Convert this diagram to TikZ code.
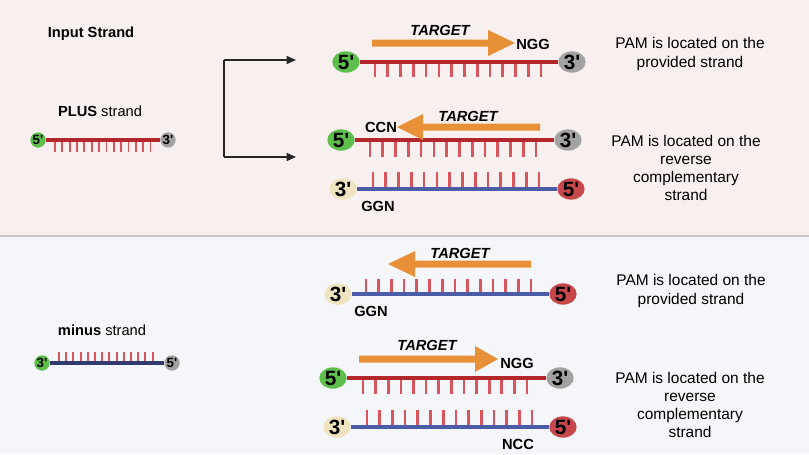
\documentclass[tikz,border=0pt]{standalone}
\usepackage{fontspec}
\setmainfont{Liberation Sans}
\usetikzlibrary{shapes.geometric,arrows.meta}
\definecolor{toppanel}{HTML}{F8F0EE}
\definecolor{botpanel}{HTML}{F4F6FA}
\definecolor{divider}{HTML}{C9C5C6}
\definecolor{strandred}{HTML}{B3262C}
\definecolor{tickred}{HTML}{D9545C}
\definecolor{strandblue}{HTML}{4B5CA6}
\definecolor{stranddark}{HTML}{313B6B}
\definecolor{endgreen}{HTML}{5DBE4B}
\definecolor{endgray}{HTML}{A2A2A2}
\definecolor{endcream}{HTML}{EFE3C0}
\definecolor{endred}{HTML}{C8474A}
\definecolor{targetorange}{HTML}{E89038}
\newcommand{\pr}{\textquotesingle}
\tikzset{
  bigend/.style={ellipse, minimum width=20.5pt, minimum height=16pt, inner sep=0pt, font=\bfseries\fontsize{15.5}{15.5}\selectfont},
  smallend/.style={circle, minimum size=11.5pt, inner sep=0pt, font=\bfseries\fontsize{10}{10}\selectfont},
  redstrand/.style={strandred, line width=3.3pt},
  bluestrand/.style={strandblue, line width=3.3pt},
  tickline/.style={tickred, line width=2pt},
  smalltick/.style={tickred, line width=1.4pt},
  lbl/.style={font=\bfseries\fontsize{11}{11}\selectfont, inner sep=0pt},
  targetlbl/.style={font=\bfseries\itshape\fontsize{11}{11}\selectfont, inner sep=0pt},
  pamtext/.style={align=center, font=\fontsize{11.6}{13.7}\selectfont, inner sep=0pt},
  heading/.style={font=\fontsize{11}{11}\selectfont, inner sep=0pt},
  orangearrow/.style={fill=targetorange, draw=none},
  bracket/.style={black!85, line width=1.1pt},
}
\begin{document}
\begin{tikzpicture}[x=0.75pt, y=-0.75pt]
\useasboundingbox (0,0) rectangle (809,454);
% panels
\fill[toppanel] (0,0) rectangle (809,235);
\fill[botpanel] (0,237) rectangle (809,454);
\draw[divider, line width=2pt] (0,236) -- (809,236);

% ---------- top panel ----------
\node[heading, font=\bfseries\fontsize{11}{11}\selectfont] (inp) at (91,34) {Input Strand};
\node[heading] (plus) at (100,111) {\textbf{PLUS} strand};
% plus strand
\foreach \i in {0,...,13} \draw[smalltick] ({55+\i*7.35},142) -- ({55+\i*7.35},152);
\node[smallend, fill=endgreen] (p5) at (38,140) {5\pr};
\node[smallend, fill=endgray] (p3) at (168,140) {3\pr};
\draw[strandred, line width=2.4pt] (p5.east) -- (p3.west);

% bracket
\coordinate (bt) at (224,60);
\coordinate (bb) at (224,157);
\coordinate (at) at (296,60);
\coordinate (ab) at (296,157);
\draw[bracket] (bt) -- (bb);
\draw[bracket, -{Triangle[length=7pt,width=6pt]}] (bt) -- (at);
\draw[bracket, -{Triangle[length=7pt,width=6pt]}] (bb) -- (ab);

% row 1
\foreach \i in {0,...,13} \draw[tickline] ({375+\i*12.77},64) -- ({375+\i*12.77},77);
\node[bigend, fill=endgreen] (r1a) at (346,62) {5\pr};
\node[bigend, fill=endgray] (r1b) at (572,62) {3\pr};
\draw[redstrand] (r1a.east) -- (r1b.west);
\fill[orangearrow] (372,39.5) -- (488,39.5) -- (488,30) -- (515,43) -- (488,56) -- (488,46.5) -- (372,46.5) -- cycle;
\node[targetlbl] (t1) at (440,30) {TARGET};
\node[lbl] (n1) at (533,44) {NGG};
\node[pamtext] (pam1) at (690,54) {PAM is located on the\\provided strand};

% row 2
\foreach \i in {0,...,13} \draw[tickline] ({370+\i*12.77},142) -- ({370+\i*12.77},157);
\foreach \i in {0,...,13} \draw[tickline] ({373+\i*12.77},172) -- ({373+\i*12.77},187);
\node[bigend, fill=endgreen] (r2a) at (341,140) {5\pr};
\node[bigend, fill=endgray] (r2b) at (568,140) {3\pr};
\draw[redstrand] (r2a.east) -- (r2b.west);
\node[bigend, fill=endcream] (r2c) at (343,189) {3\pr};
\node[bigend, fill=endred] (r2d) at (571,189) {5\pr};
\draw[bluestrand] (r2c.east) -- (r2d.west);
\fill[orangearrow] (540,123.5) -- (423,123.5) -- (423,114) -- (397,127) -- (423,140) -- (423,130.5) -- (540,130.5) -- cycle;
\node[targetlbl] (t2) at (468,116) {TARGET};
\node[lbl] (c2) at (381,127) {CCN};
\node[lbl] (g2) at (378,206) {GGN};
\node[pamtext] (pam2) at (686,168) {PAM is located on the\\reverse\\complementary\\strand};

% ---------- bottom panel ----------
\node[heading] (minus) at (102,330) {\textbf{minus} strand};
\foreach \i in {0,...,13} \draw[smalltick] ({59+\i*7.2},352) -- ({59+\i*7.2},362);
\node[smallend, fill=endgreen] (m3) at (42,363) {3\pr};
\node[smallend, fill=endgray] (m5) at (172,363) {5\pr};
\draw[stranddark, line width=2.4pt] (m3.east) -- (m5.west);

% row 3
\foreach \i in {0,...,13} \draw[tickline] ({366+\i*12.7},279) -- ({366+\i*12.7},294);
\node[bigend, fill=endcream] (r3a) at (338,294) {3\pr};
\node[bigend, fill=endred] (r3b) at (563,294) {5\pr};
\draw[bluestrand] (r3a.east) -- (r3b.west);
\fill[orangearrow] (531,260.5) -- (415,260.5) -- (415,251) -- (388,264) -- (415,277) -- (415,267.5) -- (531,267.5) -- cycle;
\node[targetlbl] (t3) at (460,253) {TARGET};
\node[lbl] (g3) at (371,311) {GGN};
\node[pamtext] (pam3) at (691,291) {PAM is located on the\\provided strand};

% row 4
\foreach \i in {0,...,13} \draw[tickline] ({363+\i*12.62},380) -- ({363+\i*12.62},394);
\foreach \i in {0,...,13} \draw[tickline] ({367+\i*12.7},410) -- ({367+\i*12.7},426);
\node[bigend, fill=endgreen] (r4a) at (333,378) {5\pr};
\node[bigend, fill=endgray] (r4b) at (560,378) {3\pr};
\draw[redstrand] (r4a.east) -- (r4b.west);
\node[bigend, fill=endcream] (r4c) at (337,427) {3\pr};
\node[bigend, fill=endred] (r4d) at (563,427) {5\pr};
\draw[bluestrand] (r4c.east) -- (r4d.west);
\fill[orangearrow] (359,355.5) -- (475,355.5) -- (475,346) -- (498,359) -- (475,372) -- (475,362.5) -- (359,362.5) -- cycle;
\node[targetlbl] (t4) at (427,345) {TARGET};
\node[lbl] (n4) at (517,363) {NGG};
\node[lbl] (c4) at (518,444) {NCC};
\node[pamtext] (pam4) at (690,405) {PAM is located on the\\reverse\\complementary\\strand};
\end{tikzpicture}
\end{document}
